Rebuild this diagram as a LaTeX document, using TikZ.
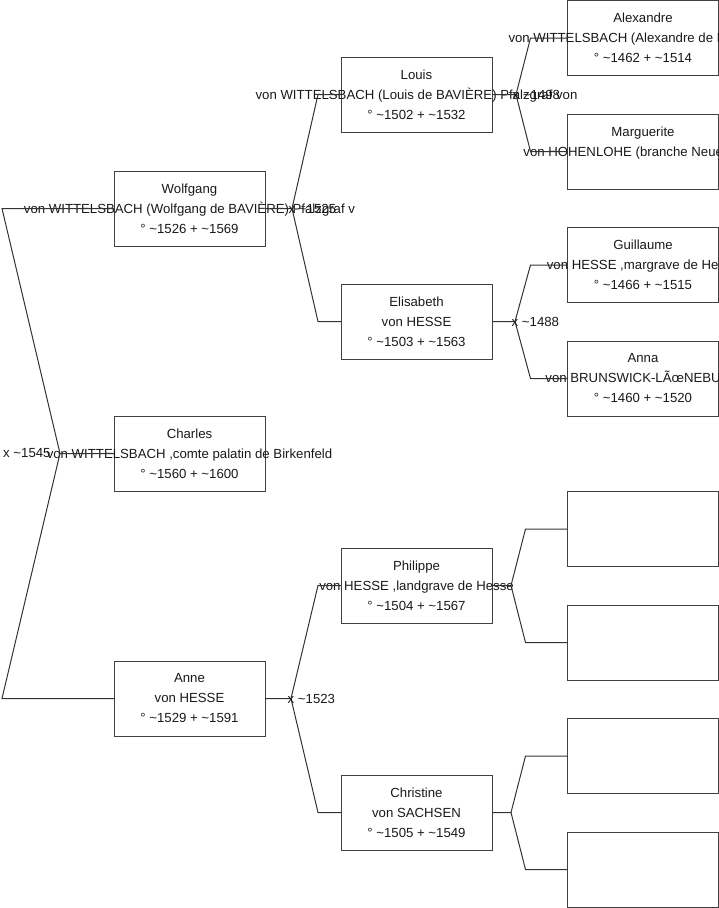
\documentclass[tikz,border=0pt]{standalone}
\usepackage{fontspec}
\setmainfont{Liberation Sans}
\newcommand\person[3]{% name, center, text
  \node[box] (#1) at #2 {};
  \node[txt] (#1t) at (#1.center) {#3};
}
\newcommand\famfork[6]{%
  \coordinate (#1ap) at ([xshift=#2]#1.east);
  \coordinate (#1ca) at ([xshift=-#3]#4.west);
  \coordinate (#1cb) at ([xshift=-#3]#5.west);
  \draw[conn] (#1.east) -- (#1ap) -- (#1ca) -- (#4.west);
  \draw[conn] (#1ap) -- (#1cb) -- (#5.west);
  \node[lbl, anchor=west] (#1lb) at ([xshift=-3.5pt]#1ap) {#6};
}
\begin{document}
\begin{tikzpicture}[x=1pt,y=-1pt,
  box/.style={draw=black!75, line width=1pt, minimum width=151pt, minimum height=75pt, inner sep=0pt, outer sep=0pt},
  txt/.style={align=center, inner sep=0pt, font=\fontsize{13.2pt}{20pt}\selectfont, text=black!90},
  conn/.style={draw=black!80, line width=1pt},
  lbl/.style={inner sep=0pt, font=\fontsize{13.2pt}{20pt}\selectfont, text=black!90}]
\useasboundingbox (0,0) rectangle (719,908);
% column 1
\person{W}{(189.5,208.5)}{Wolfgang\\von WITTELSBACH (Wolfgang de BAVIÈRE) Pfalzgraf v\\° \textasciitilde1526 + \textasciitilde1569}
\person{C}{(189.5,453.5)}{Charles\\von WITTELSBACH ,comte palatin de Birkenfeld\\° \textasciitilde1560 + \textasciitilde1600}
\person{A}{(189.5,698.5)}{Anne\\von HESSE\\° \textasciitilde1529 + \textasciitilde1591}
% column 2
\person{L}{(416.5,94.5)}{Louis\\von WITTELSBACH (Louis de BAVIÈRE) Pfalzgraf von\\° \textasciitilde1502 + \textasciitilde1532}
\person{E}{(416.5,321.5)}{Elisabeth\\von HESSE\\° \textasciitilde1503 + \textasciitilde1563}
\person{P}{(416.5,585.5)}{Philippe\\von HESSE ,landgrave de Hesse\\° \textasciitilde1504 + \textasciitilde1567}
\person{K}{(416.5,812.5)}{Christine\\von SACHSEN\\° \textasciitilde1505 + \textasciitilde1549}
% column 3
\person{G1}{(643,38)}{Alexandre\\von WITTELSBACH (Alexandre de BAVIÈRE)\\° \textasciitilde1462 + \textasciitilde1514}
\person{G2}{(643,151.5)}{Marguerite\\von HOHENLOHE (branche Neuenstein)\\\mbox{}}
\person{G3}{(643,265)}{Guillaume\\von HESSE ,margrave de Hesse\\° \textasciitilde1466 + \textasciitilde1515}
\person{G4}{(643,378.5)}{Anna\\von BRUNSWICK-LÃœNEBURG\\° \textasciitilde1460 + \textasciitilde1520}
\node[box] (G5) at (643,529) {};
\node[box] (G6) at (643,642.5) {};
\node[box] (G7) at (643,756) {};
\node[box] (G8) at (643,869.5) {};
% root fork
\coordinate (Cap) at ([xshift=-54]C.west);
\coordinate (Cca) at ([xshift=-112]W.west);
\coordinate (Ccb) at ([xshift=-112]A.west);
\draw[conn] (C.west) -- (Cap) -- (Cca) -- (W.west);
\draw[conn] (Cap) -- (Ccb) -- (A.west);
\node[lbl, anchor=west] (Clb) at (3,453.5) {x \textasciitilde1545};
% forks
\famfork{W}{27}{23}{L}{E}{x \textasciitilde1525}
\famfork{A}{26}{23}{P}{K}{x \textasciitilde1523}
\famfork{L}{24}{37}{G1}{G2}{x \textasciitilde1498}
\famfork{E}{23}{37}{G3}{G4}{x \textasciitilde1488}
\famfork{P}{19}{42}{G5}{G6}{}
\famfork{K}{19}{42}{G7}{G8}{}
\end{tikzpicture}
\end{document}
